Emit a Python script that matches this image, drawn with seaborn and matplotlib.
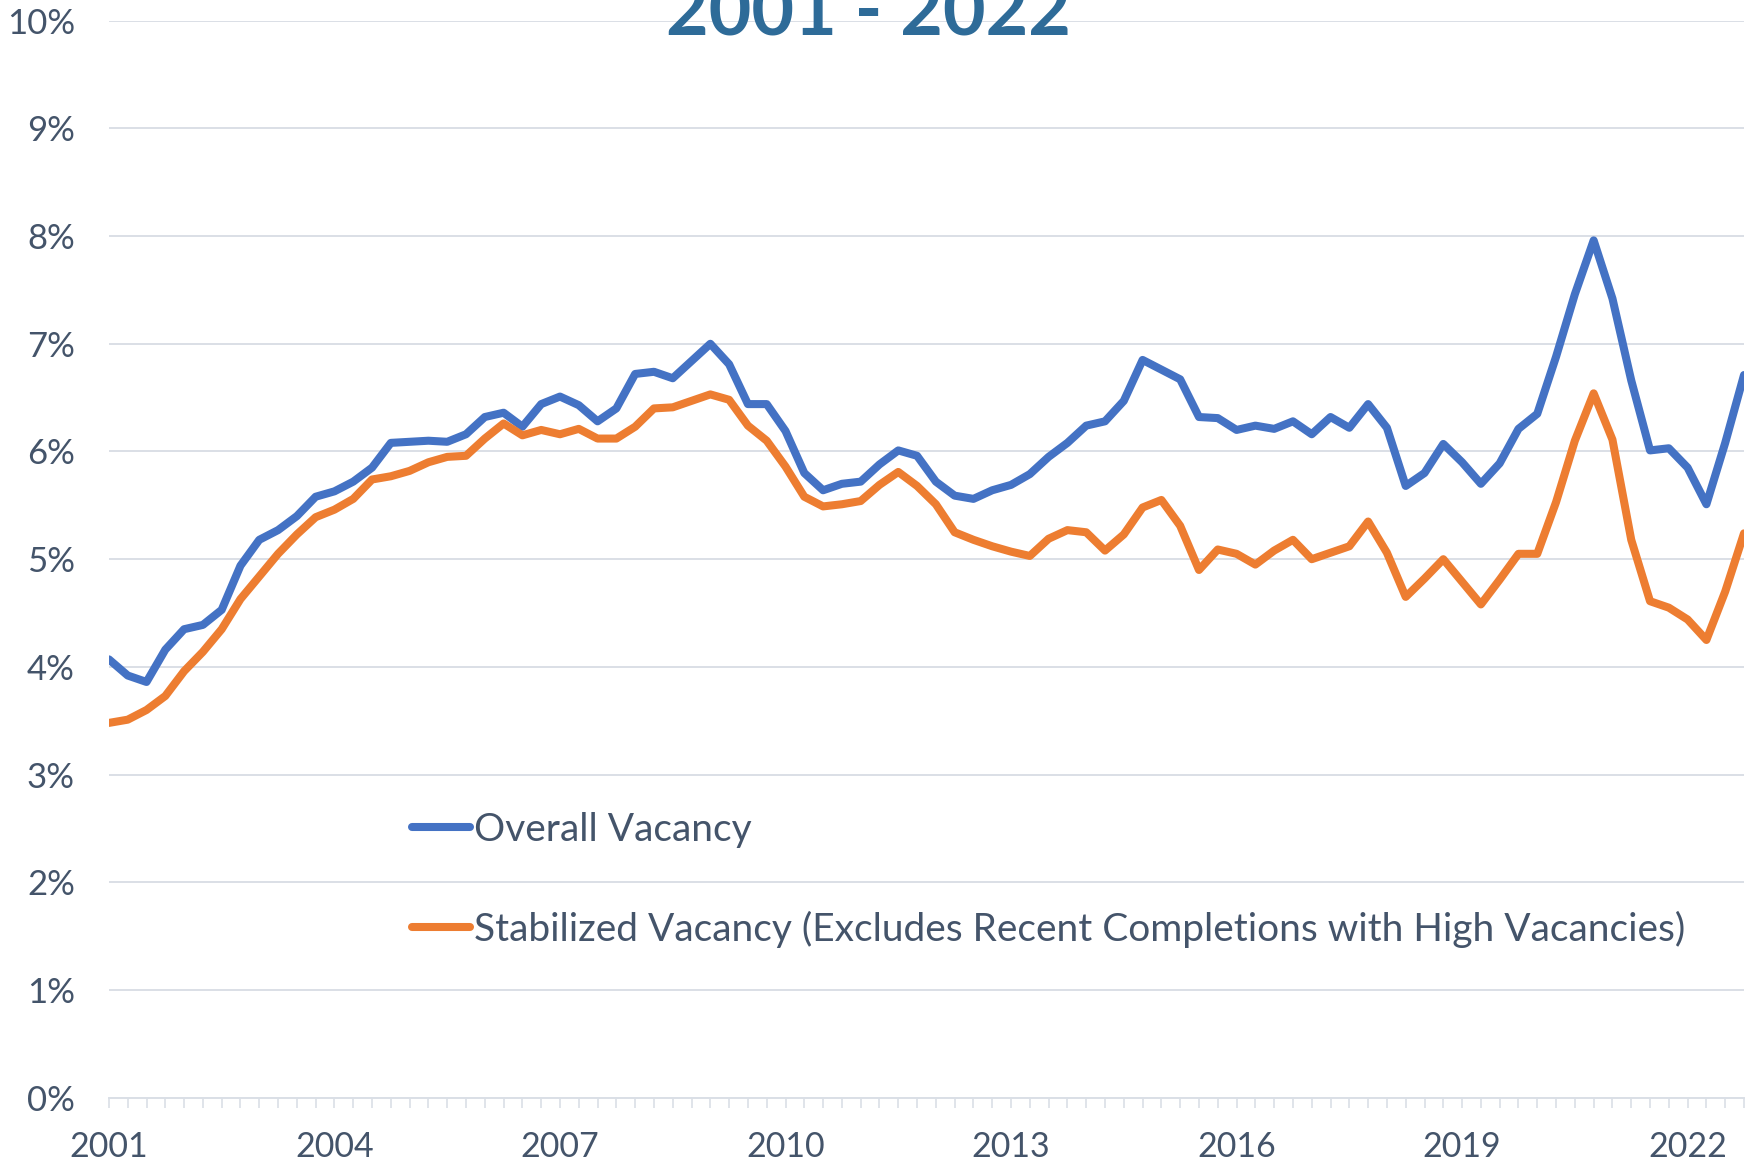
import numpy as np
import pandas as pd
import matplotlib
matplotlib.use("Agg")
import matplotlib.pyplot as plt
import seaborn as sns

# --- data (quarterly, 2001 Q1 - 2022 Q4) ---
YEARS = list(range(2001, 2023))
QUARTERS = [f"{y} Q{q}" for y in YEARS for q in range(1, 5)]

OVERALL = [
    4.07, 3.92, 3.86, 4.16, 4.35, 4.39, 4.53, 4.94, 5.18, 5.27, 5.40, 5.58,
    5.63, 5.72, 5.85, 6.08, 6.09, 6.10, 6.09, 6.16, 6.32, 6.36, 6.23, 6.44,
    6.51, 6.43, 6.28, 6.40, 6.72, 6.74, 6.68, 6.84, 7.00, 6.81, 6.44, 6.44,
    6.19, 5.80, 5.64, 5.70, 5.72, 5.88, 6.01, 5.96, 5.72, 5.59, 5.56, 5.64,
    5.69, 5.79, 5.95, 6.08, 6.24, 6.28, 6.47, 6.85, 6.76, 6.67, 6.32, 6.31,
    6.20, 6.24, 6.21, 6.28, 6.16, 6.32, 6.22, 6.44, 6.22, 5.68, 5.80, 6.07,
    5.90, 5.70, 5.89, 6.21, 6.35, 6.88, 7.46, 7.96, 7.42, 6.66, 6.01, 6.03,
    5.85, 5.51, 6.08, 6.71,
]
STABILIZED = [
    3.48, 3.51, 3.60, 3.73, 3.96, 4.14, 4.35, 4.63, 4.84, 5.05, 5.23, 5.39,
    5.46, 5.56, 5.74, 5.77, 5.82, 5.90, 5.95, 5.96, 6.12, 6.26, 6.15, 6.20,
    6.16, 6.21, 6.12, 6.12, 6.23, 6.40, 6.41, 6.47, 6.53, 6.48, 6.24, 6.10,
    5.86, 5.58, 5.49, 5.51, 5.54, 5.69, 5.81, 5.68, 5.51, 5.25, 5.18, 5.12,
    5.07, 5.03, 5.19, 5.27, 5.25, 5.08, 5.23, 5.48, 5.55, 5.31, 4.90, 5.09,
    5.05, 4.95, 5.08, 5.18, 5.00, 5.06, 5.12, 5.35, 5.06, 4.65, 4.82, 5.00,
    4.79, 4.58, 4.81, 5.05, 5.05, 5.53, 6.10, 6.54, 6.11, 5.18, 4.61, 4.55,
    4.44, 4.25, 4.70, 5.24,
]
SERIES = [
    "Overall Vacancy",
    "Stabilized Vacancy (Excludes Recent Completions with High Vacancies)",
]
TITLE = "2001 - 2022"

df = pd.DataFrame({
    "Quarter": QUARTERS * 2,
    "Vacancy": OVERALL + STABILIZED,
    "Series": [SERIES[0]] * len(QUARTERS) + [SERIES[1]] * len(QUARTERS),
})

# --- style ---
sns.set_theme(style="white")
plt.rcParams["font.family"] = ["Lato", "DejaVu Sans"]
TEXT = "#44546A"
GRID = "#DADFE6"

fig = plt.figure(figsize=(17.54, 11.61), dpi=100)
ax = fig.add_axes([0.0621, 0.0545, 0.9322, 0.9277])

sns.lineplot(data=df, x="Quarter", y="Vacancy", hue="Series", sort=False,
             palette=["#4472C4", "#ED7D31"], linewidth=5.8, ax=ax)
for ln in ax.get_lines():
    ln.set_solid_joinstyle("round")

ax.set_xlim(0, len(QUARTERS) - 1)
ax.set_ylim(0, 10)
ax.set_yticks(range(0, 11))
ax.set_yticklabels([f"{v}%" for v in range(0, 11)])
ax.set_xticks(range(len(QUARTERS)))
ax.set_xticklabels([QUARTERS[i][:4] if i % 12 == 0 else "" for i in range(len(QUARTERS))])

ax.grid(axis="y", color=GRID, linewidth=1.4)
ax.set_axisbelow(True)
for s in ["top", "right", "left"]:
    ax.spines[s].set_visible(False)
ax.spines["bottom"].set_color(GRID)
ax.spines["bottom"].set_linewidth(1.4)
ax.tick_params(axis="x", bottom=True, length=7.5, width=1.2, color=GRID,
               labelsize=24.5, labelcolor=TEXT, pad=16.5)
ax.tick_params(axis="y", left=False, labelsize=25, labelcolor=TEXT, pad=18.5)
ax.set_xlabel("")
ax.set_ylabel("")

handles, labels = ax.get_legend_handles_labels()
leg = ax.legend(handles, labels, loc="upper left", bbox_to_anchor=(0.2349, 0.301),
                bbox_transform=fig.transFigure, frameon=False, fontsize=28,
                handlelength=1.5, handletextpad=0.1, labelspacing=1.62, borderpad=0,
                borderaxespad=0)
for t in leg.get_texts():
    t.set_color(TEXT)
for h in leg.get_lines():
    h.set_linewidth(5.8)
    h.set_solid_capstyle("round")

fig.text(0.4954, 0.969, TITLE, ha="center", va="baseline", fontsize=53,
         fontweight="bold", color="#2E6B98")

fig.savefig("out.png", dpi=100)
